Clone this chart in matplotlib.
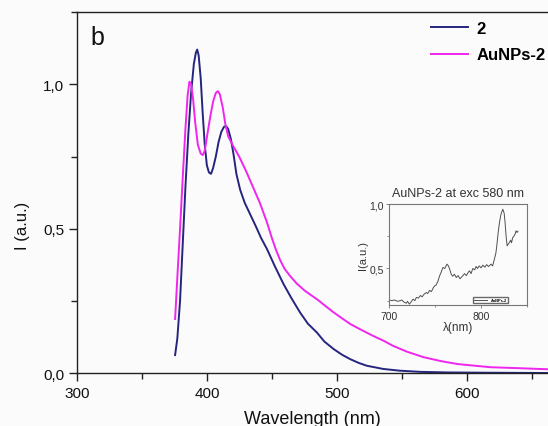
import matplotlib
matplotlib.use("Agg")
import matplotlib.pyplot as plt
from matplotlib.ticker import MultipleLocator, FixedLocator, FixedFormatter

plt.rcParams['font.family'] = ['Liberation Sans', 'DejaVu Sans']

# ---- main data: compound 2 ----
wl_2 = [375.4, 377.1, 379.2, 381.3, 383.4, 385.6, 387.7, 389.8, 391.4, 392.4, 393.5,
        395.1, 396.6, 398.2, 399.8, 401.4, 403.0, 404.6, 406.7, 408.8, 410.9, 413.0,
        414.6, 416.2, 418.3, 420.4, 422.5, 425.4, 428.9, 433.1, 437.3, 441.5, 446.0,
        452.1, 458.7, 464.8, 471.5, 477.4, 484.4, 490.1, 497.2, 503.8, 510.0, 516.5,
        522.9, 535.5, 548.2, 564.1, 585.2, 616.9, 662.0]
i_2 = [0.063, 0.12, 0.25, 0.45, 0.65, 0.83, 0.97, 1.07, 1.11, 1.12, 1.10,
       1.02, 0.90, 0.79, 0.72, 0.695, 0.69, 0.71, 0.75, 0.80, 0.835, 0.853,
       0.855, 0.845, 0.81, 0.755, 0.69, 0.635, 0.59, 0.55, 0.51, 0.468, 0.43,
       0.37, 0.309, 0.26, 0.21, 0.172, 0.141, 0.11, 0.084, 0.064, 0.049, 0.036,
       0.026, 0.015, 0.009, 0.005, 0.003, 0.002, 0.001]

# ---- main data: AuNPs-2 ----
wl_au = [375.4, 377.1, 379.2, 381.3, 383.4, 385.0, 386.4, 387.7, 389.2, 390.8, 392.9,
         395.1, 396.7, 398.2, 400.3, 402.5, 404.6, 406.7, 408.3, 409.8, 412.0, 414.1,
         416.2, 419.8, 424.6, 429.9, 435.2, 440.5, 445.8, 450.0, 453.1, 456.3, 459.5,
         463.7, 469.0, 475.3, 484.8, 491.2, 497.5, 503.8, 510.2, 516.5, 522.9, 529.2,
         535.5, 542.9, 553.5, 566.2, 579.9, 592.6, 606.3, 617.9, 638.0, 662.0]
i_au = [0.188, 0.33, 0.50, 0.68, 0.85, 0.96, 1.009, 1.00, 0.95, 0.87, 0.79,
        0.76, 0.755, 0.77, 0.83, 0.89, 0.94, 0.97, 0.976, 0.965, 0.92, 0.86,
        0.82, 0.788, 0.75, 0.70, 0.645, 0.59, 0.525, 0.465, 0.425, 0.39, 0.362,
        0.337, 0.31, 0.285, 0.255, 0.232, 0.21, 0.19, 0.17, 0.155, 0.14, 0.126,
        0.113, 0.095, 0.075, 0.056, 0.042, 0.032, 0.026, 0.021, 0.018, 0.014]

# ---- inset data: AuNPs-2 at exc 580 nm ----
wl_in = [700, 703, 706, 709, 711.6, 714, 716, 718.8, 720, 722, 724, 726, 728, 729.6,
         732, 734, 736, 738, 740.4, 742, 744, 746, 748, 749.5, 751, 753, 754.9, 756.5,
         758.5, 760.5, 762.8, 764.5, 766, 767.5, 769, 771, 773, 775, 777, 780, 782, 784,
         786, 787.4, 789, 791, 793, 794.6, 796, 798, 800, 801.8, 804, 806, 808, 810.8,
         812.5, 814.4, 816, 817, 818.5, 819.9, 821.5, 823.5, 825, 826, 827, 828.2, 829.5,
         830.7, 832, 833, 834.3, 835.5, 837, 837.9, 839, 840]
i_in = [0.256, 0.25, 0.255, 0.245, 0.249, 0.255, 0.24, 0.23, 0.245, 0.223, 0.24, 0.262,
        0.25, 0.275, 0.27, 0.29, 0.28, 0.30, 0.313, 0.305, 0.33, 0.32, 0.35, 0.365, 0.37,
        0.40, 0.443, 0.47, 0.508, 0.50, 0.534, 0.52, 0.49, 0.456, 0.44, 0.455, 0.43,
        0.445, 0.42, 0.443, 0.46, 0.445, 0.47, 0.482, 0.46, 0.50, 0.49, 0.516, 0.50,
        0.52, 0.505, 0.526, 0.51, 0.53, 0.515, 0.534, 0.52, 0.573, 0.62, 0.676, 0.78,
        0.857, 0.92, 0.961, 0.93, 0.857, 0.76, 0.676, 0.69, 0.702, 0.72, 0.70, 0.741,
        0.75, 0.77, 0.793, 0.78, 0.79]

x_major = [300, 400, 500, 600]
y_major = [0.0, 0.5, 1.0]
y_major_labels = ['0,0', '0,5', '1,0']

blue = '#25257e'
magenta = '#f025ee'
axis_col = '#222222'
bg = '#fbfbfb'

fig = plt.figure(figsize=(5.48, 4.27), dpi=100)
fig.patch.set_facecolor(bg)
ax = fig.add_axes([0.1405, 0.1234, 0.8595, 0.8462])
ax.set_facecolor(bg)

ax.plot(wl_2, i_2, color=blue, lw=1.4, label='2')
ax.plot(wl_au, i_au, color=magenta, lw=1.4, label='AuNPs-2')

ax.set_xlim(300, 662)
ax.set_ylim(0, 1.25)
ax.xaxis.set_major_locator(FixedLocator(x_major))
ax.xaxis.set_minor_locator(MultipleLocator(50))
ax.yaxis.set_major_locator(FixedLocator(y_major))
ax.yaxis.set_major_formatter(FixedFormatter(y_major_labels))
ax.yaxis.set_minor_locator(MultipleLocator(0.25))
ax.spines['right'].set_visible(False)
for s in ('left', 'bottom', 'top'):
    ax.spines[s].set_color(axis_col)
    ax.spines[s].set_linewidth(1.0)
ax.tick_params(which='major', direction='out', length=6, width=1.0, labelsize=11,
               color=axis_col, labelcolor='#111111', pad=3)
ax.tick_params(which='minor', direction='out', length=4, width=1.0, color=axis_col)
ax.tick_params(top=False, right=False)
ax.set_xlabel('Wavelength (nm)', fontsize=13, labelpad=7, color='#111111')
ax.set_ylabel('I (a.u.)', fontsize=12, color='#111111')
ax.yaxis.set_label_coords(-0.10, 0.41)
ax.text(0.028, 0.965, 'b', transform=ax.transAxes, fontsize=18, va='top', ha='left',
        color='#111111')

leg = ax.legend(loc='upper left', bbox_to_anchor=(0.787, 0.949),
                bbox_transform=fig.transFigure, frameon=False, borderpad=0,
                borderaxespad=0, handlelength=2.2, handletextpad=0.5, labelspacing=0.7,
                prop={'weight': 'bold', 'size': 12})

# ---- inset ----
axi = fig.add_axes([0.710, 0.283, 0.252, 0.2365])
axi.set_facecolor(bg)
axi.plot(wl_in, i_in, color='#505050', lw=0.7, label='AuNPs-2')
axi.set_xlim(700, 850)
axi.set_ylim(0.215, 1.0)
axi.xaxis.set_major_locator(FixedLocator([700, 800]))
axi.xaxis.set_major_formatter(FixedFormatter(['700', '800']))
axi.xaxis.set_minor_locator(MultipleLocator(50))
axi.yaxis.set_major_locator(FixedLocator([0.5, 1.0]))
axi.yaxis.set_major_formatter(FixedFormatter(['0,5', '1,0']))
axi.yaxis.set_minor_locator(MultipleLocator(0.25))
for s in axi.spines.values():
    s.set_color('#777777')
    s.set_linewidth(0.8)
axi.tick_params(which='both', direction='out', length=2.5, width=0.6, labelsize=7.5,
                color='#777777', labelcolor='#333333', pad=1.5)
axi.tick_params(which='minor', length=1.5)
axi.set_title('AuNPs-2 at exc 580 nm', fontsize=9, color='#333333', pad=6)
axi.set_xlabel('λ(nm)', fontsize=8.5, color='#333333', labelpad=0)
axi.set_ylabel('I(a.u.)', fontsize=8, color='#333333', labelpad=1)
axi.legend(loc='lower right', bbox_to_anchor=(0.86, 0.02), frameon=True, fancybox=False,
           edgecolor='#444444', handlelength=3.5, borderpad=0.3, borderaxespad=0,
           prop={'weight': 'bold', 'size': 2.8})

fig.savefig('out.png', dpi=100, facecolor=fig.get_facecolor())
